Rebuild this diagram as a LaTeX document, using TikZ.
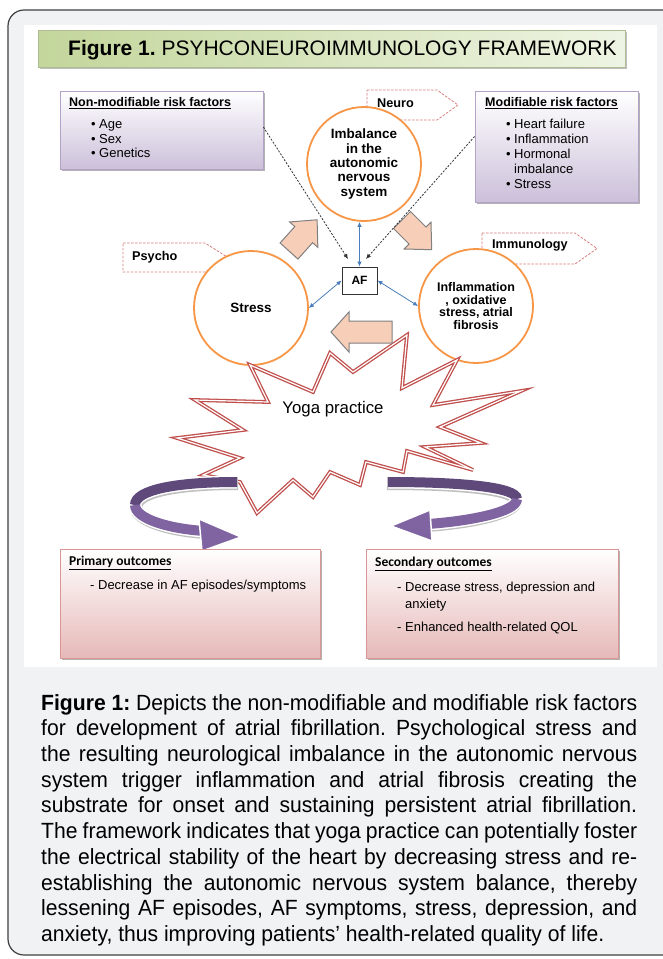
\documentclass[tikz,border=0pt]{standalone}
\usepackage{fontspec}
\setmainfont{Liberation Sans}
\newfontfamily\capfont{Liberation Sans}[FakeStretch=0.96]
\newfontfamily\calfont{Carlito}
\usetikzlibrary{shadows,arrows.meta}
\definecolor{frameBg}{HTML}{F1F2F4}
\definecolor{frameLn}{HTML}{404040}
\definecolor{bannerL}{HTML}{C3D69B}
\definecolor{bannerR}{HTML}{EEF4E3}
\definecolor{lavBot}{HTML}{CCC0DA}
\definecolor{lavLn}{HTML}{B3A2C7}
\definecolor{pinkBot}{HTML}{E6B9B8}
\definecolor{pinkLn}{HTML}{D99694}
\definecolor{callLn}{HTML}{D77F7C}
\definecolor{orangeC}{HTML}{F79646}
\definecolor{blueA}{HTML}{4A7EBB}
\definecolor{starRed}{HTML}{C0504D}
\definecolor{peachT}{HTML}{FCE4D6}
\definecolor{peachB}{HTML}{F4B99A}
\definecolor{purpD}{HTML}{5F497A}
\definecolor{purpL}{HTML}{8064A2}
\begin{document}
\frenchspacing
\begin{tikzpicture}[x=1pt,y=-1pt,
  banner/.style={minimum width=587, minimum height=37, inner sep=0, left color=bannerL, right color=bannerR, draw=bannerL!70!gray,
    drop shadow={shadow xshift=1.5pt, shadow yshift=-2pt, fill=black, opacity=0.25}},
  riskbox/.style={inner sep=0, top color=white, bottom color=lavBot, draw=lavLn, line width=0.8,
    drop shadow={shadow xshift=2pt, shadow yshift=-2pt, fill=black, opacity=0.3}},
  outbox/.style={inner sep=0, top color=white, bottom color=pinkBot, draw=pinkLn, line width=0.8,
    drop shadow={shadow xshift=2pt, shadow yshift=-2pt, fill=black, opacity=0.3}},
  risktitle/.style={anchor=base west, inner sep=0, font=\bfseries\fontsize{12.5}{14}\selectfont},
  riskitem/.style={anchor=base west, inner sep=0, font=\fontsize{13}{14}\selectfont},
  calltext/.style={anchor=base west, inner sep=0, font=\bfseries\fontsize{12.7}{14}\selectfont},
  callout/.style={draw=callLn, line width=0.8, dash pattern=on 2.5pt off 1.5pt},
  circ/.style={circle, draw=orangeC, line width=1.8, fill=white, minimum size=114, inner sep=0, align=center},
  bluearr/.style={draw=blueA, line width=0.8, {Latex[length=5pt,width=4.5pt]}-{Latex[length=5pt,width=4.5pt]}},
  dasharr/.style={draw=black!80, line width=0.8, dash pattern=on 2pt off 1.5pt, -{Latex[length=5pt,width=4.5pt]}},
  blockarr/.style={draw=gray, line width=1, fill=peachB!70!white},
  starline/.style={draw=starRed, line width=1.3, double=white, double distance=1.2pt, fill=white, line join=miter},
  outtitle/.style={anchor=base west, inner sep=0, font=\calfont\bfseries\fontsize{13.5}{15}\selectfont},
  outitem/.style={anchor=base west, inner sep=0, font=\fontsize{13}{15}\selectfont}
]
\useasboundingbox (0,0) rectangle (662,959);
\fill[white] (0,0) rectangle (662,959);
\draw[frameLn, line width=1.2, fill=frameBg, rounded corners=16] (8,10) rectangle (700,955);
\fill[white] (24,25) rectangle (657,667);

% title banner
\node[banner] (title) at (331.5,48.5) {};
\node[anchor=base west, inner sep=0, font=\fontsize{21}{24}\selectfont] (titletext) at (68,55.6) {\textbf{Figure 1.} PSYHCONEUROIMMUNOLOGY FRAMEWORK};

% risk factor boxes
\node[riskbox, minimum width=203, minimum height=78] (nonmod) at (161.5,130) {};
\node[risktitle] (nonmodT) at (69,106.3) {\underline{Non-modifiable risk factors}};
\node[riskitem] (age) at (91,128.7) {\makebox[8pt][l]{•}Age};
\node[riskitem] (sex) at (91,143.7) {\makebox[8pt][l]{•}Sex};
\node[riskitem] (gen) at (91,157.7) {\makebox[8pt][l]{•}Genetics};

\node[riskbox, minimum width=163, minimum height=111] (mod) at (556.5,146.5) {};
\node[risktitle] (modT) at (485,106.3) {\underline{Modifiable risk factors}};
\node[riskitem] (hf) at (506,128.7) {\makebox[8pt][l]{•}Heart failure};
\node[riskitem] (infm) at (506,143.7) {\makebox[8pt][l]{•}Inflammation};
\node[riskitem] (horm) at (506,158.7) {\makebox[8pt][l]{•}Hormonal};
\node[riskitem] (imbl) at (514,173.7) {imbalance};
\node[riskitem] (strs) at (506,188.7) {\makebox[8pt][l]{•}Stress};

% callouts
\draw[callout] (367,90) -- (437,90) -- (458,105) -- (437,120) -- (367,120) -- cycle;
\node[calltext] (neuro) at (377,107.6) {Neuro};
\draw[callout] (123,243) -- (205,243) -- (228,257.5) -- (205,272) -- (123,272) -- cycle;
\node[calltext] (psycho) at (132,260) {Psycho};
\draw[callout] (482,233) -- (575,233) -- (597,248.5) -- (575,264) -- (482,264) -- cycle;
\node[calltext] (immuno) at (492,248.6) {Immunology};

% circles
\node[circ, font=\bfseries\fontsize{13.5}{14.4}\selectfont] (imb) at (364,164) {Imbalance\\in the\\autonomic\\nervous\\system};
\node[circ, font=\bfseries\fontsize{13.5}{14.4}\selectfont] (stress) at (251,308) {Stress};
\node[circ, font=\bfseries\fontsize{12.5}{12.6}\selectfont] (infl) at (476,306) {Inflammation\\, oxidative\\stress, atrial\\fibrosis};

% star
\draw[starline] (407,335) -- (402,388) -- (457,360) -- (433,405) -- (521,391) -- (440,427) -- (481,443) -- (425,447) -- (473,470) -- (407,451) -- (403,472) -- (366,462) -- (360,485) -- (330,472) -- (313,497) -- (293,480) -- (257,513) -- (240,482) -- (203,475) -- (240,458) -- (177,438) -- (243,430) -- (195,400) -- (268,402) -- (250,365) -- (313,392) -- (330,353) -- (353,372) -- cycle;
\node[anchor=base, inner sep=0, font=\fontsize{16.8}{18}\selectfont] (yoga) at (333,413) {Yoga practice};

% purple curved arrows
\draw[gray!50, line width=13, shift={(1,1.5)}] (237,482) .. controls (175,482) and (135,490) .. (135,505) .. controls (135,519) and (170,529) .. (205,531);
\draw[white, line width=13] (237,482) .. controls (175,482) and (135,490) .. (135,505) .. controls (135,519) and (170,529) .. (205,531);
\draw[purpD, line width=10] (237,482) .. controls (175,482) and (135,490) .. (135,505);
\draw[purpL, line width=10] (135,505) .. controls (135,519) and (170,529) .. (205,531);
\filldraw[fill=purpL, draw=white, line width=1.5] (199,519) -- (241,537) -- (202,551) -- cycle;

\draw[gray!50, line width=13, shift={(-1,1.5)}] (388,482) .. controls (460,482) and (517,487) .. (517,499) .. controls (517,512) and (470,521) .. (428,524);
\draw[white, line width=13] (388,482) .. controls (460,482) and (517,487) .. (517,499) .. controls (517,512) and (470,521) .. (428,524);
\draw[purpD, line width=10] (388,482) .. controls (460,482) and (517,487) .. (517,499);
\draw[purpL, line width=10] (517,499) .. controls (517,512) and (470,521) .. (428,524);
\filldraw[fill=purpL, draw=white, line width=1.5] (430,510) -- (391,526) -- (432,541) -- cycle;

% block arrows
\draw[blockarr, shift={(289,251)}, rotate=48] (0,-12) -- (22,-12) -- (22,-19) -- (42,0) -- (22,19) -- (22,12) -- (0,12) -- cycle;
\draw[blockarr, shift={(402,220)}, rotate=-45] (0,-12) -- (22,-12) -- (22,-19) -- (42,0) -- (22,19) -- (22,12) -- (0,12) -- cycle;
\draw[blockarr, shift={(392,332)}, rotate=180] (0,-11) -- (43,-11) -- (43,-20) -- (61,0) -- (43,20) -- (43,11) -- (0,11) -- cycle;

% AF
\node[draw=black!80, line width=0.9, fill=white, minimum width=35, minimum height=27, inner sep=0, font=\bfseries\fontsize{12}{12}\selectfont] (af) at (359.5,280.5) {AF};
\coordinate (afl) at (348,259);
\coordinate (afr) at (366,259);

% connectors
\draw[bluearr] (af.north) -- (imb.south -| af.north);
\draw[bluearr] (af.west) -- (stress.east);
\draw[bluearr] (af.east) -- (infl.west);
\draw[dasharr] ([yshift=3]nonmod.east) -- (afl);
\draw[dasharr] ([yshift=10]mod.west) -- (afr);

% outcome boxes
\node[outbox, minimum width=260, minimum height=109] (prim) at (190,603.5) {};
\node[outtitle] (primT) at (69,565.7) {\underline{Primary outcomes}};
\node[outitem] (prim1) at (90,589.7) {- Decrease in AF episodes/symptoms};

\node[outbox, minimum width=252, minimum height=109] (sec) at (492,603.5) {};
\node[outtitle] (secT) at (375,566.7) {\underline{Secondary outcomes}};
\node[outitem] (sec1) at (397,591.7) {- Decrease stress, depression and};
\node[outitem] (sec2) at (405,608.7) {anxiety};
\node[outitem] (sec3) at (397,631.7) {- Enhanced health-related QOL};

% caption
\node[anchor=north west, inner sep=0, text width=596pt, align=justify, font=\capfont\fontsize{22}{25.7}\selectfont] (caption) at (41,694) {\textbf{Figure 1:} Depicts the non-modifiable and modifiable risk factors\linebreak
for development of atrial fibrillation. Psychological stress and\linebreak
the resulting neurological imbalance in the autonomic nervous\linebreak
system trigger inflammation and atrial fibrosis creating the\linebreak
substrate for onset and sustaining persistent atrial fibrillation.\linebreak
The framework indicates that yoga practice can potentially foster\linebreak
the electrical stability of the heart by decreasing stress and re-\linebreak
establishing the autonomic nervous system balance, thereby\linebreak
lessening AF episodes, AF symptoms, stress, depression, and\linebreak
anxiety, thus improving patients’ health-related quality of life.};
\end{tikzpicture}
\end{document}
